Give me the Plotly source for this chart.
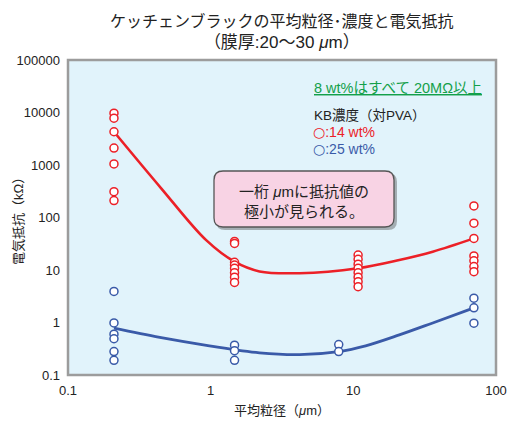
import plotly.graph_objects as go

# ---- data ----
red_x = [0.21, 0.21, 0.21, 0.21, 0.21, 0.21, 0.21,
         1.47, 1.47, 1.47, 1.47, 1.47, 1.47, 1.47, 1.47,
         10.8, 10.8, 10.8, 10.8, 10.8, 10.8, 10.8, 10.8,
         70, 70, 70, 70, 70, 70, 70]
red_y = [9700, 7800, 4300, 2100, 1050, 310, 210,
         35, 32, 14, 12.4, 10.8, 8.9, 7.3, 5.8,
         19.3, 16, 12.9, 10.8, 8.9, 7.3, 6.0, 4.8,
         166, 78, 40, 18.5, 15, 11.6, 9.3]
blue_x = [0.21, 0.21, 0.21, 0.21, 0.21, 0.21,
          1.47, 1.47, 1.47,
          7.9, 7.9,
          70, 70, 70]
blue_y = [3.9, 0.98, 0.6, 0.49, 0.28, 0.19,
          0.37, 0.29, 0.19,
          0.38, 0.28,
          2.9, 1.9, 0.97]

red_curve_x = [0.21, 0.45, 0.93, 1.47, 2.2, 4.2, 10.8, 21, 36, 70]
red_curve_y = [4300, 360, 37, 14.4, 9.4, 8.7, 10.8, 15.5, 22.3, 40]
blue_curve_x = [0.21, 0.44, 0.98, 2.2, 4.2, 7.9, 12.2, 21, 36, 70]
blue_curve_y = [0.78, 0.52, 0.36, 0.265, 0.245, 0.28, 0.36, 0.58, 0.98, 1.9]

x_ticks = [0.1, 1, 10, 100]
x_ticktext = ["0.1", "1", "10", "100"]
y_ticks = [0.1, 1, 10, 100, 1000, 10000, 100000]
y_ticktext = ["0.1", "1", "10", "100", "1000", "10000", "100000"]

RED = "#EC2027"
BLUE = "#3A5AA8"
FONT = "Liberation Sans, Arial, Noto Sans CJK JP"

W, H = 509, 423
L, R, T, B = 68, 496, 60, 375


def px(x):
    return (x - L) / (R - L)


def py(y):
    return (B - y) / (B - T)


fig = go.Figure()
fig.add_trace(go.Scatter(x=red_curve_x, y=red_curve_y, mode="lines",
                         line=dict(color=RED, width=2.6, shape="spline", smoothing=1.0),
                         hoverinfo="skip", showlegend=False))
fig.add_trace(go.Scatter(x=blue_curve_x, y=blue_curve_y, mode="lines",
                         line=dict(color=BLUE, width=2.8, shape="spline", smoothing=1.0),
                         hoverinfo="skip", showlegend=False))
fig.add_trace(go.Scatter(x=red_x, y=red_y, mode="markers",
                         marker=dict(symbol="circle", size=8, color="white",
                                     line=dict(color=RED, width=1.5)),
                         showlegend=False))
fig.add_trace(go.Scatter(x=blue_x, y=blue_y, mode="markers",
                         marker=dict(symbol="circle", size=8, color="white",
                                     line=dict(color=BLUE, width=1.5)),
                         showlegend=False))


def rounded_path(x0, y0, x1, y1, r):
    rx = r / (R - L)
    ry = r / (B - T)
    X0, X1 = px(x0), px(x1)
    Y0, Y1 = py(y1), py(y0)
    return (f"M {X0+rx},{Y1} L {X1-rx},{Y1} Q {X1},{Y1} {X1},{Y1-ry} "
            f"L {X1},{Y0+ry} Q {X1},{Y0} {X1-rx},{Y0} "
            f"L {X0+rx},{Y0} Q {X0},{Y0} {X0},{Y0+ry} "
            f"L {X0},{Y1-ry} Q {X0},{Y1} {X0+rx},{Y1} Z")


shapes = [
    dict(type="rect", xref="paper", yref="paper", x0=0, y0=0, x1=1, y1=1,
         line=dict(color="#9c9c9c", width=2.5), fillcolor="rgba(0,0,0,0)", layer="above"),
    dict(type="path", xref="paper", yref="paper",
         path=rounded_path(216, 173, 397, 230, 9),
         fillcolor="rgba(90,90,90,0.45)", line=dict(width=0), layer="above"),
    dict(type="path", xref="paper", yref="paper",
         path=rounded_path(214, 171, 394, 227, 9),
         fillcolor="#F8D3E4", line=dict(color="#555555", width=1.3), layer="above"),
]

circ = '<span style="font-family:DejaVu Sans">○</span>'

annotations = [
    dict(text="ケッチェンブラックの平均粒径･濃度と電気抵抗<br>"
              "<span style=\"font-size:17px\">（膜厚:20～30 <i>μ</i>m）</span>",
         xref="paper", yref="paper", x=px(282), y=py(32), xanchor="center", yanchor="middle",
         showarrow=False, font=dict(family=FONT, size=16, color="#222222")),
    dict(text="<u>8 wt%はすべて 20MΩ以上</u>", xref="paper", yref="paper",
         x=px(312), y=py(88), xanchor="left", yanchor="middle", showarrow=False,
         font=dict(family=FONT, size=14.5, color="#13A04A")),
    dict(text="KB濃度（対PVA）", xref="paper", yref="paper",
         x=px(312), y=py(115), xanchor="left", yanchor="middle", showarrow=False,
         font=dict(family=FONT, size=13.5, color="#222222")),
    dict(text=circ + ":14 wt%", xref="paper", yref="paper",
         x=px(311), y=py(132), xanchor="left", yanchor="middle", showarrow=False,
         font=dict(family=FONT, size=14, color=RED)),
    dict(text=circ + ":25 wt%", xref="paper", yref="paper",
         x=px(311), y=py(149), xanchor="left", yanchor="middle", showarrow=False,
         font=dict(family=FONT, size=14, color=BLUE)),
    dict(text="一桁 <i>μ</i>mに抵抗値の<br>極小が見られる。", xref="paper", yref="paper",
         x=px(304), y=py(201), xanchor="center", yanchor="middle", showarrow=False,
         font=dict(family=FONT, size=15, color="#222222")),
    dict(text="平均粒径（<i>μ</i>m）", xref="paper", yref="paper",
         x=px(282), y=py(410), xanchor="center", yanchor="middle", showarrow=False,
         font=dict(family=FONT, size=13, color="#222222")),
    dict(text="電気抵抗（kΩ）", xref="paper", yref="paper",
         x=px(18), y=py(218), xanchor="center", yanchor="middle", showarrow=False,
         textangle=-90, font=dict(family=FONT, size=13, color="#222222")),
]

fig.update_layout(
    width=W, height=H,
    margin=dict(l=L, r=W - R, t=T, b=H - B, pad=0, autoexpand=False),
    paper_bgcolor="white",
    plot_bgcolor="#E1F3FB",
    font=dict(family=FONT, size=13, color="#222222"),
    shapes=shapes,
    annotations=annotations,
    showlegend=False,
    xaxis=dict(type="log", range=[-1, 2], tickvals=x_ticks, ticktext=x_ticktext,
               showgrid=False, zeroline=False, showline=False, ticks="", automargin=False,
               ticklabelstandoff=6, tickfont=dict(size=13, color="#222222")),
    yaxis=dict(type="log", range=[-1, 5], tickvals=y_ticks, ticktext=y_ticktext,
               showgrid=False, zeroline=False, showline=False, ticks="", automargin=False,
               ticklabelstandoff=7, tickfont=dict(size=13, color="#222222")),
)

fig.write_html("out.html", config={"displayModeBar": False},
               post_script="document.body.style.margin='0';document.body.style.overflow='hidden';")
